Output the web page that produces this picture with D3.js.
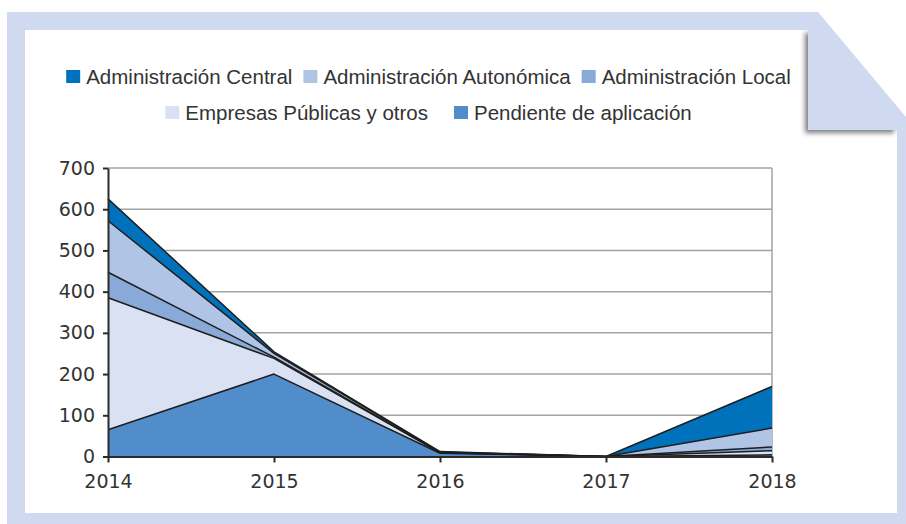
<!DOCTYPE html>
<meta charset="utf-8">
<style>
html, body{
  margin: 0;
  padding: 0;
  background: #fff;
}
svg{ display: block; }
</style>
<body>
<script src="https://d3js.org/d3.v7.min.js"></script>
<script>

var width = 906,
    height = 524;

// data
var years = [2014, 2015, 2016, 2017, 2018];
var central    = [53, 4, 1, 0, 101];
var autonomica = [125, 9, 1, 0, 46];
var local      = [62, 3, 1, 0, 9];
var empresas   = [320, 38, 1, 0, 10];
var pendiente  = [65, 200, 8, 0, 4];
var yTicks = [0, 100, 200, 300, 400, 500, 600, 700];

var names = {
  central: "Administración Central",
  autonomica: "Administración Autonómica",
  local: "Administración Local",
  empresas: "Empresas Públicas y otros",
  pendiente: "Pendiente de aplicación"
};
var colors = {
  central: "#0072bc",
  autonomica: "#b0c4e6",
  local: "#89a9d9",
  empresas: "#d9e1f3",
  pendiente: "#528dcb"
};
var stackOrder = ["pendiente", "empresas", "local", "autonomica", "central"];
var legendRows = [["central", "autonomica", "local"], ["empresas", "pendiente"]];

var frameColor = "#cfdaf0";
var plot = {left: 108, right: 772, top: 168, bottom: 456.5};

var svg = d3.select("body").append("svg")
  .attr("width", width)
  .attr("height", height);

var x = d3.scaleLinear().domain([2014, 2018]).range([plot.left, plot.right]);
var y = d3.scaleLinear().domain([0, 700]).range([plot.bottom, plot.top]);

drawFrame();
drawGrid();
drawAreas();
drawAxes();
drawLegend();
drawCorner();

function drawFrame(){
  svg.append("rect")
    .attr("x", 7).attr("y", 12)
    .attr("width", width - 7).attr("height", height - 12)
    .attr("fill", frameColor);
  svg.append("rect")
    .attr("x", 25).attr("y", 30)
    .attr("width", 897 - 25).attr("height", 513 - 30)
    .attr("fill", "#fff");
}

function drawGrid(){
  var g = svg.append("g").attr("class", "grid");
  g.selectAll("line")
    .data(yTicks.filter(function(d){ return d > 0; }))
    .enter().append("line")
    .attr("x1", plot.left).attr("x2", plot.right)
    .attr("y1", function(d){ return y(d); })
    .attr("y2", function(d){ return y(d); })
    .attr("stroke", "#a3a3a3")
    .attr("stroke-width", 1.5);
  g.append("line")
    .attr("x1", plot.right).attr("x2", plot.right)
    .attr("y1", plot.top).attr("y2", plot.bottom)
    .attr("stroke", "#a3a3a3")
    .attr("stroke-width", 1.5);
}

function drawAreas(){
  var values = {central: central, autonomica: autonomica, local: local, empresas: empresas, pendiente: pendiente};
  var table = years.map(function(yr, i){
    var row = {year: yr};
    stackOrder.forEach(function(k){ row[k] = values[k][i]; });
    return row;
  });
  var series = d3.stack().keys(stackOrder)(table);

  var area = d3.area()
    .x(function(d){ return x(d.data.year); })
    .y0(function(d){ return y(d[0]); })
    .y1(function(d){ return y(d[1]); });
  var line = d3.line()
    .x(function(d){ return x(d.data.year); })
    .y(function(d){ return y(d[1]); });

  var g = svg.append("g").attr("class", "areas");
  g.selectAll("path.fill")
    .data(series)
    .enter().append("path")
    .attr("class", "fill")
    .attr("fill", function(d){ return colors[d.key]; })
    .attr("d", area);
  g.selectAll("path.edge")
    .data(series)
    .enter().append("path")
    .attr("class", "edge")
    .attr("fill", "none")
    .attr("stroke", "#1e1e1e")
    .attr("stroke-width", 1.5)
    .attr("stroke-linejoin", "round")
    .attr("d", line);
}

function drawAxes(){
  var gy = svg.append("g")
    .attr("transform", "translate(" + plot.left + ",0)")
    .call(d3.axisLeft(y).tickValues(yTicks).tickSize(5).tickSizeOuter(0).tickPadding(8));
  var gx = svg.append("g")
    .attr("transform", "translate(0," + plot.bottom + ")")
    .call(d3.axisBottom(x).tickValues(years).tickFormat(d3.format("d")).tickSize(6).tickSizeOuter(0).tickPadding(12));

  [gy, gx].forEach(function(g){
    g.select(".domain").attr("stroke", "#2b2b2b").attr("stroke-width", 2);
    g.selectAll(".tick line").attr("stroke", "#2b2b2b").attr("stroke-width", 2);
    g.selectAll(".tick text")
      .attr("fill", "#333")
      .style("font-family", "'DejaVu Sans', sans-serif")
      .style("font-size", "19px");
  });
}

function drawLegend(){
  var rowY = [77, 113],
      gaps = [11, 26],
      cx = 428.5;
  var g = svg.append("g").attr("class", "legend");

  legendRows.forEach(function(row, r){
    var items = row.map(function(k){
      var item = g.append("g");
      item.append("rect")
        .attr("x", 0).attr("y", -7)
        .attr("width", 14).attr("height", 13)
        .attr("fill", colors[k]);
      var t = item.append("text")
        .attr("x", 20).attr("dy", "0.35em")
        .attr("fill", "#333")
        .style("font-family", "'Liberation Sans', Arial, sans-serif")
        .style("font-size", "20.5px")
        .text(names[k]);
      return {g: item, w: 20 + t.node().getComputedTextLength()};
    });
    var total = d3.sum(items, function(d){ return d.w; }) + gaps[r] * (items.length - 1);
    var pos = cx - total / 2;
    items.forEach(function(it){
      it.g.attr("transform", "translate(" + pos + "," + rowY[r] + ")");
      pos += it.w + gaps[r];
    });
  });
}

function drawCorner(){
  var defs = svg.append("defs");
  var f = defs.append("filter").attr("id", "flapShadow")
    .attr("x", "-20%").attr("y", "-20%").attr("width", "140%").attr("height", "140%");
  f.append("feDropShadow")
    .attr("dx", -3).attr("dy", 3)
    .attr("stdDeviation", 2.5)
    .attr("flood-color", "#444")
    .attr("flood-opacity", 0.7);

  svg.append("rect")
    .attr("x", 808).attr("y", 30)
    .attr("width", 897 - 808).attr("height", 100)
    .attr("fill", frameColor)
    .attr("filter", "url(#flapShadow)");

  // cover shadow bleed on the top and right bands
  svg.append("rect")
    .attr("x", 7).attr("y", 12).attr("width", width - 7).attr("height", 18)
    .attr("fill", frameColor);
  svg.append("rect")
    .attr("x", 897).attr("y", 12).attr("width", width - 897).attr("height", height - 12)
    .attr("fill", frameColor);

  // the cut-off corner
  svg.append("polygon")
    .attr("points", "818,12 818,0 " + width + ",0 " + width + ",117")
    .attr("fill", "#fff");
}

</script>
</body>
